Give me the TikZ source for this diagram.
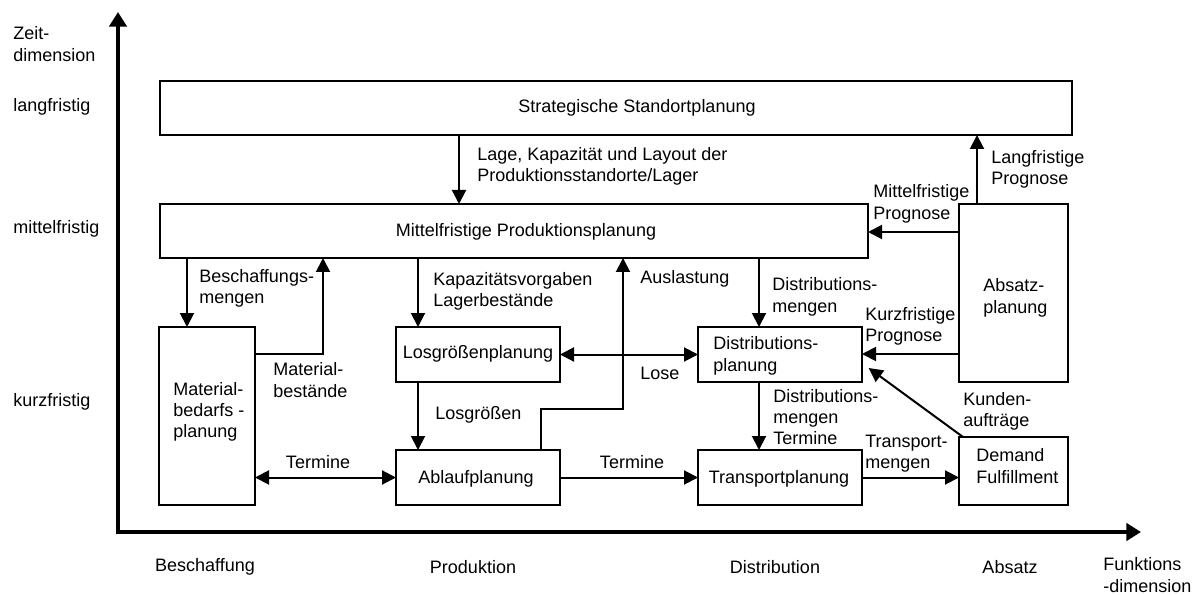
\documentclass[tikz,border=0pt]{standalone}
\usepackage{fontspec}
\setmainfont{Liberation Sans}
\usetikzlibrary{arrows.meta}

\begin{document}
\begin{tikzpicture}[x=0.75pt,y=-0.75pt,
  font=\fontsize{13.5pt}{16pt}\selectfont,
  box/.style={draw,line width=1.5pt,inner sep=0pt,outer sep=0pt,fill=white},
  arr/.style={line width=1.5pt,-{Triangle[length=10.5pt,width=10.5pt]}},
  darr/.style={line width=1.5pt,{Triangle[length=10.5pt,width=10.5pt]}-{Triangle[length=10.5pt,width=10.5pt]}},
  axisline/.style={line width=2.6pt,-{Triangle[length=11pt,width=13pt]}},
  lbl/.style={anchor=west,align=left,inner sep=0pt},
  ctr/.style={align=center,inner sep=0pt}]

\useasboundingbox (0,0) rectangle (1199,595);

% axes
\coordinate (origin) at (118,532);
\coordinate (ytip) at (118,12);
\coordinate (xtip) at (1141,532);
\draw[axisline] ([yshift=-1.3pt]origin) -- (ytip);
\draw[axisline] ([xshift=-1.3pt]origin) -- (xtip);

% planning boxes
\node[box,minimum width=684pt,minimum height=40.5pt] (strat) at (616,108) {};
\node[box,minimum width=531pt,minimum height=40.5pt] (mittel) at (514,231) {};
\node[box,minimum width=72pt,minimum height=133.5pt] (material) at (207,416) {};
\node[box,minimum width=123pt,minimum height=41.25pt] (los) at (478,354.5) {};
\node[box,minimum width=123pt,minimum height=41.25pt] (ablauf) at (478,477.5) {};
\node[box,minimum width=123pt,minimum height=41.25pt] (distp) at (780,354.5) {};
\node[box,minimum width=123pt,minimum height=41.25pt] (transp) at (780,477.5) {};
\node[box,minimum width=81.75pt,minimum height=133.5pt] (absatz) at (1013.5,293) {};
\node[box,minimum width=81.75pt,minimum height=51pt] (demand) at (1013.5,471) {};

% box texts
\node[ctr] (tstrat) at (637,108) {Strategische Standortplanung};
\node[ctr] (tmittel) at (526,232) {Mittelfristige Produktionsplanung};
\node[ctr] (tlos) at (478,354) {Losgrößenplanung};
\node[ctr] (tablauf) at (476,479) {Ablaufplanung};
\node[ctr] (ttransp) at (779,479) {Transportplanung};
\node[lbl] (tdistp) at (713,356) {Distributions-\\planung};
\node[lbl] (tmaterial) at (173,412) {Material-\\bedarfs -\\planung};
\node[lbl] (tabsatz) at (983,298) {Absatz-\\planung};
\node[lbl] (tdemand) at (976,466) {Demand\\Fulfillment};

% connectors
\draw[arr] (strat.south -| 459,0) -- (mittel.north -| 459,0);
\draw[arr] (absatz.north -| 977,0) -- (strat.south -| 977,0);
\draw[arr] (absatz.west |- 0,232) -- (mittel.east |- 0,232);
\draw[arr] (absatz.west |- 0,354) -- (distp.east |- 0,354);
\draw[arr] ([xshift=3pt]demand.north west) -- ([xshift=5pt,yshift=10.5pt]distp.south east);
\draw[arr] (mittel.south -| 187,0) -- (material.north -| 187,0);
\draw[arr] (material.east |- 0,354) -| (mittel.south -| 323,0);
\draw[arr] (mittel.south -| 418,0) -- (los.north -| 418,0);
\coordinate (bend) at (623,409);
\draw[arr] (ablauf.north -| 541,0) |- (bend) -- (mittel.south -| bend);
\draw[arr] (mittel.south -| 759,0) -- (distp.north -| 759,0);
\draw[darr] (los.east) -- (distp.west);
\draw[arr] (los.south -| 418,0) -- (ablauf.north -| 418,0);
\draw[arr] (distp.south -| 759,0) -- (transp.north -| 759,0);
\draw[darr] (material.east |- ablauf.west) -- (ablauf.west);
\draw[arr] (ablauf.east) -- (transp.west);
\draw[arr] (transp.east) -- (demand.west |- transp.east);

% connector labels
\node[lbl] (llage) at (477,166.5) {Lage, Kapazität und Layout der\\Produktionsstandorte/Lager};
\node[lbl] (llang) at (991,169.5) {Langfristige\\Prognose};
\node[lbl] (lmittel) at (873,204) {Mittelfristige\\Prognose};
\node[lbl] (lkurz) at (865,326.5) {Kurzfristige\\Prognose};
\node[lbl] (lbesch) at (199,288.5) {Beschaffungs-\\mengen};
\node[lbl] (lmatb) at (273,380) {Material-\\bestände};
\node[lbl] (lkap) at (433,291.5) {Kapazitätsvorgaben\\Lagerbestände};
\node[lbl] (lausl) at (640,279) {Auslastung};
\node[lbl] (ldistm) at (772,297) {Distributions-\\mengen};
\node[lbl] (llose) at (640,373) {Lose};
\node[lbl] (llosg) at (435,415) {Losgrößen};
\node[ctr] (lterm1) at (318,462) {Termine};
\node[ctr] (lterm2) at (632,462) {Termine};
\node[lbl] (ldistmt) at (773,417) {Distributions-\\mengen\\Termine};
\node[lbl] (ltransm) at (865,454) {Transport-\\mengen};
\node[lbl] (lkunden) at (963,411.5) {Kunden-\\aufträge};

% axis labels
\node[lbl] (zeit) at (13,44) {Zeit-\\dimension};
\node[lbl] (lang) at (13,107) {langfristig};
\node[lbl] (mittelf) at (13,229) {mittelfristig};
\node[lbl] (kurz) at (13,402) {kurzfristig};
\node[ctr] (fbesch) at (205,567) {Beschaffung};
\node[ctr] (fprod) at (473,567) {Produktion};
\node[ctr] (fdist) at (775,567) {Distribution};
\node[ctr] (fabs) at (1010,567) {Absatz};
\node[lbl] (funk) at (1103,575) {Funktions\\-dimension};
\end{tikzpicture}
\end{document}
